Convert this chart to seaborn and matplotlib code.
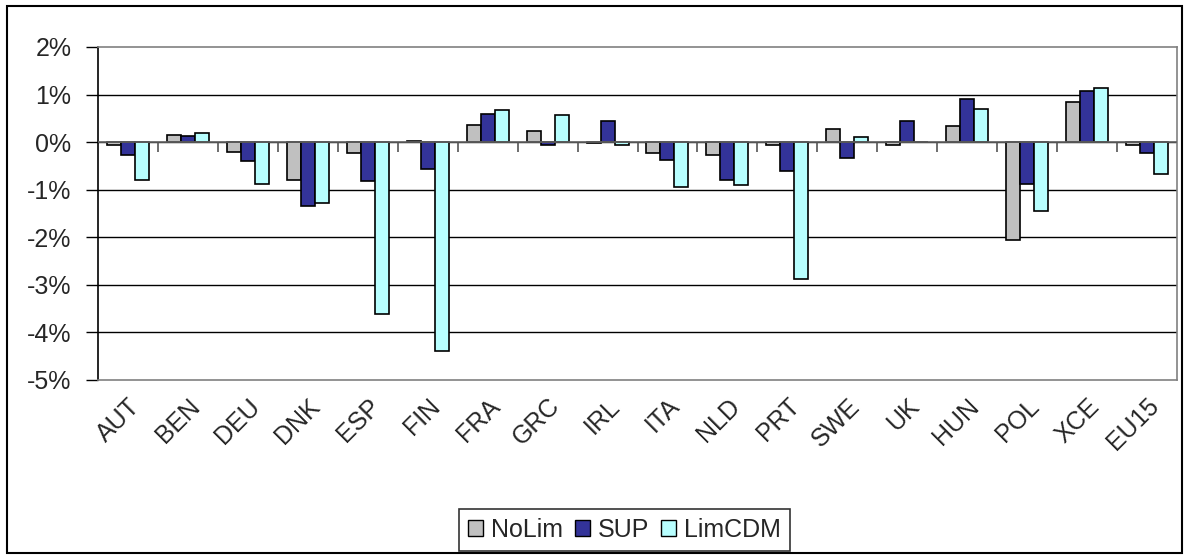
import matplotlib
matplotlib.use("Agg")
import matplotlib.pyplot as plt
import matplotlib.transforms as mtransforms
import seaborn as sns
import pandas as pd
from matplotlib.patches import Rectangle

# ------------------ Data ------------------
regions = ["AUT", "BEN", "DEU", "DNK", "ESP", "FIN", "FRA", "GRC", "IRL",
           "ITA", "NLD", "PRT", "SWE", "UK", "HUN", "POL", "XCE", "EU15"]
nolim = [-0.07, 0.14, -0.20, -0.80, -0.23, 0.02, 0.37, 0.24, -0.02,
         -0.23, -0.26, -0.07, 0.27, -0.07, 0.34, -2.06, 0.84, -0.06]
sup = [-0.27, 0.13, -0.39, -1.35, -0.82, -0.57, 0.60, -0.06, 0.44,
       -0.37, -0.80, -0.60, -0.34, 0.44, 0.90, -0.87, 1.07, -0.23]
limcdm = [-0.80, 0.20, -0.87, -1.28, -3.62, -4.40, 0.67, 0.57, -0.05,
          -0.94, -0.90, -2.87, 0.10, 0.0, 0.70, -1.45, 1.14, -0.68]
series = ["NoLim", "SUP", "LimCDM"]
colors = ["#C0C0C0", "#333399", "#B8FFFF"]

df = pd.DataFrame({
    "region": regions * 3,
    "value": nolim + sup + limcdm,
    "scenario": [s for s in series for _ in regions],
})

# ------------------ Plot ------------------
sns.set_style("white")
plt.rcParams["font.family"] = ["Liberation Sans", "DejaVu Sans"]

fig = plt.figure(figsize=(11.85, 5.56), dpi=100)
# outer chart frame
fig.patches.append(Rectangle((7 / 1185, 3 / 556), 1175 / 1185, 547 / 556,
                             transform=fig.transFigure, fill=False,
                             edgecolor="black", linewidth=1.5))
ax = fig.add_axes([98 / 1185, 1 - 380 / 556, (1177 - 98) / 1185, 333 / 556])

sns.barplot(data=df, x="region", y="value", hue="scenario", hue_order=series,
            palette=colors, width=0.7, edgecolor="black", linewidth=1.2,
            saturation=1, ax=ax, legend=False, zorder=3)

ax.set_ylim(-5, 2)
ax.set_xlim(-0.5, len(regions) - 0.5)
ax.set_yticks(range(-5, 3))
ax.set_yticklabels([f"{v}%" for v in range(-5, 3)], fontsize=18)
for v in range(-4, 2):
    ax.axhline(v, color="black", linewidth=1, zorder=1)
ax.axhline(0, color="#666666", linewidth=1.2, zorder=4)
ax.vlines([i + 0.5 for i in range(len(regions) - 1)], -0.2, 0,
          color="#555555", linewidth=1.2, zorder=4)

ax.set_xticks(range(len(regions)))
ax.set_xticklabels(regions, rotation=45, ha="right", va="top",
                   rotation_mode="anchor", fontsize=18)
shift = mtransforms.ScaledTranslation(-15 / 100, -30 / 100, fig.dpi_scale_trans)
for lbl in ax.get_xticklabels():
    lbl.set_transform(lbl.get_transform() + shift)
ax.tick_params(axis="x", length=0, pad=10)
ax.tick_params(axis="y", length=9, direction="out", left=True, width=1,
               color="black", pad=10)
ax.set_xlabel("")
ax.set_ylabel("")
for side in ["top", "right", "bottom"]:
    ax.spines[side].set_color("#808080")
    ax.spines[side].set_linewidth(1.2)
ax.spines["left"].set_color("black")
ax.spines["left"].set_linewidth(1.2)

handles = [Rectangle((0, 0), 1, 1, facecolor=c, edgecolor="black") for c in colors]
fig.legend(handles, series, loc="center", bbox_to_anchor=(0.527, 0.047), ncol=3,
           fontsize=18, frameon=True, fancybox=False, edgecolor="black",
           handlelength=0.6, handleheight=0.6, handletextpad=0.3, columnspacing=0.5,
           borderpad=0.35).get_frame().set_linewidth(1.2)

fig.savefig("out.png", dpi=100)
